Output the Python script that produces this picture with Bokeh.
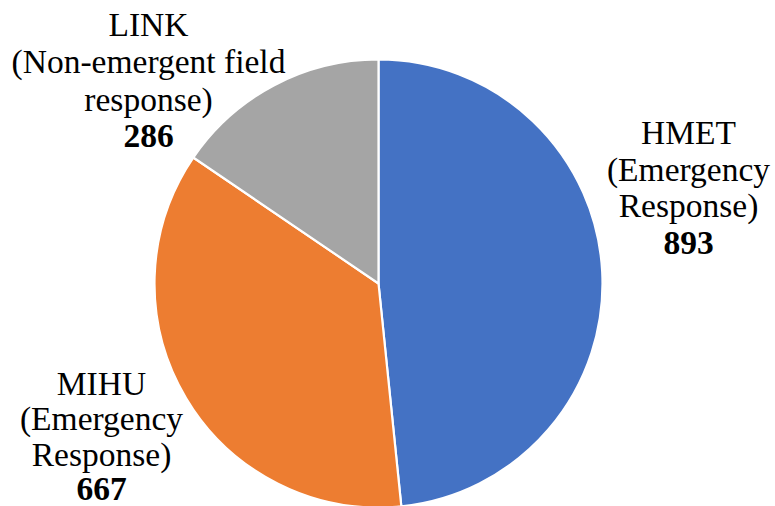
import math
from bokeh.plotting import figure
from bokeh.models import Range1d, ColumnDataSource
from bokeh.core.properties import value
from bokeh.embed import file_html
from bokeh.resources import INLINE

# ---- data ----
categories = ["HMET", "MIHU", "LINK"]
descriptions = ["(Emergency\nResponse)", "(Emergency\nResponse)", "(Non-emergent field\nresponse)"]
counts = [893, 667, 286]
colors = ["#4472C4", "#ED7D31", "#A5A5A5"]

# ---- layout (page pixel coordinates of the reference) ----
W, H = 775, 506
PAGE_OFF = 0
def dx(px):
    return px - PAGE_OFF
def dy(py):
    return H - (py - PAGE_OFF)

CX, CY, R = dx(378), dy(283), 224
# label block: centre x, first baseline y, line spacing
label_layout = {
    "HMET": (688, 132, 36.7),
    "MIHU": (101, 383, 35.3),
    "LINK": (148, 24, 37.3),
}
FONT = "Liberation Serif"
FSIZE = "33.5px"

total = float(sum(counts))
starts, ends = [], []
cum = 0.0
for c in counts:
    starts.append(math.pi / 2 - 2 * math.pi * cum / total)
    cum += c
    ends.append(math.pi / 2 - 2 * math.pi * cum / total)

p = figure(width=W, height=H, output_backend="svg", toolbar_location=None,
           x_range=Range1d(0, W), y_range=Range1d(0, H), min_border=0)
p.axis.visible = False
p.grid.visible = False
p.outline_line_color = None
p.background_fill_color = "white"

src = ColumnDataSource(dict(x=[CX] * len(counts), y=[CY] * len(counts),
                            start=starts, end=ends, color=colors))
p.wedge(x="x", y="y", radius=R, start_angle="start", end_angle="end",
        direction="clock", fill_color="color", line_color="white",
        line_width=2.2, source=src)

for cat, desc, cnt in zip(categories, descriptions, counts):
    lx, ly, sp = label_layout[cat]
    lines = [cat] + desc.split("\n")
    xs = [dx(lx)] * len(lines)
    ys = [dy(ly + i * sp) for i in range(len(lines))]
    p.text(x=xs, y=ys, text=lines, text_font=value(FONT), text_font_size=FSIZE,
           text_align="center", text_baseline="alphabetic", text_color="#000000")
    p.text(x=[dx(lx)], y=[dy(ly + len(lines) * sp)], text=[str(cnt)],
           text_font=value(FONT), text_font_size=FSIZE, text_font_style="bold",
           text_align="center", text_baseline="alphabetic", text_color="#000000")

open("out.html", "w").write(file_html(p, INLINE))
